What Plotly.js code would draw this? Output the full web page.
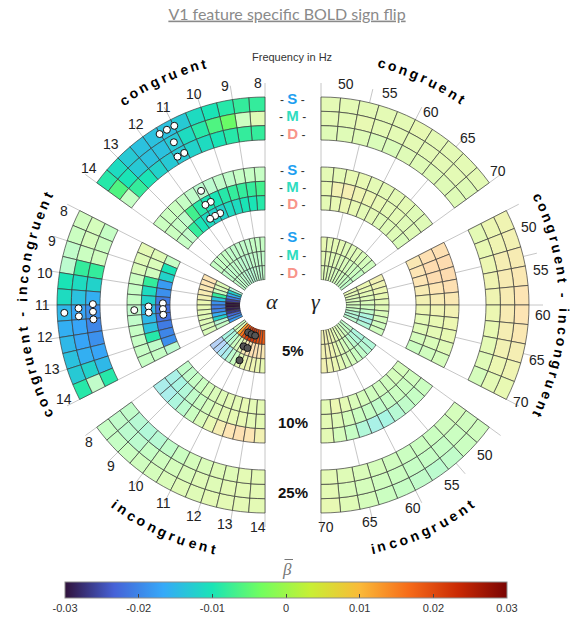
<!DOCTYPE html>
<html>
<head>
<meta charset="utf-8">
<script src="https://cdn.plot.ly/plotly-3.0.1.min.js"></script>
<style>
  html, body { margin: 0; padding: 0; background: #fff; }
  #chart { width: 574px; height: 619px; }
</style>
</head>
<body>
<div id="chart"></div>
<script>
// ---------------- data ----------------
// frequency bin edges (Hz)
const alphaEdges = [8, 8.5, 9, 9.5, 10, 10.5, 11, 11.5, 12, 12.5, 13, 13.5, 14];
const gammaEdges = [50, 52, 54, 56, 58, 60, 62, 64, 66, 68, 70];
const alphaTicks = [8, 9, 10, 11, 12, 13, 14];
const gammaTicks = [50, 55, 60, 65, 70];
const groupNames = ['congruent', 'congruent - incongruent', 'incongruent'];
const levelNames = ['5%', '10%', '25%'];
const depthNames = ['S', 'M', 'D'];

// mean beta per cell, in units of 1e-3; rows S / M / D, bins in frequency order
const alphaCong5  = [[-4,-4,-4,-5,-5,-5,-5,-5,-4,-4,-4,-4],
                     [-5,-5,-5,-5,-6,-6,-6,-5,-5,-5,-5,-5],
                     [-5,-6,-6,-6,-7,-7,-7,-6,-6,-5,-5,-5]];
const alphaCong10 = [[-4,-4,-4,-5,-5,-6,-6,-5,-4,-3,-3,-3],
                     [-7,-8,-8,-8,-9,-10,-10,-9,-7,-5,-4,-3],
                     [-9,-10,-10,-11,-11,-12,-12,-11,-10,-8,-5,-4]];
const alphaCong25 = [[-8,-8,-9,-10,-11,-13,-14,-14,-14,-13,-11,-9],
                     [1,-3,-4,-6,-9,-11,-13,-14,-14,-13,-10,-6],
                     [-8,-8,-9,-10,-11,-12,-13,-13,-12,-10,-8,-4]];
const alphaCI5    = [[10,10,9,8,6,4,3,2,1,1,0,0],
                     [1,0,-3,-8,-14,-19,-21,-20,-16,-12,-7,-4],
                     [-8,-12,-16,-21,-26,-30,-30,-29,-27,-23,-20,-18]];
const alphaCI10   = [[2,1,0,-3,-4,-4,-5,-5,-4,-4,-4,-4],
                     [1,0,-2,-8,-11,-12,-15,-15,-14,-9,-5,-4],
                     [-4,-10,-12,-18,-19,-21,-22,-22,-21,-20,-19,-6]];
const alphaCI25   = [[-2,-3,-5,-6,-10,-11,-15,-16,-15,-14,-13,-9],
                     [-1,-1,-3,-8,-11,-14,-17,-17,-17,-16,-12,-5],
                     [-4,-3,-2,-8,-12,-16,-19,-20,-19,-17,-15,-9]];
const alphaInc5   = [[-20,-19,-14,-12,-6,-3,2,4,5,5,4,3],
                     [-10,-9,-6,-3,0,3,8,10,11,11,10,9],
                     [-3,0,12,16,19,21,22,22,21,20,19,18]];
const alphaInc10  = [[-12,-12,-9,-6,-3,0,3,7,10,11,10,6],
                     [-11,-10,-8,-5,-3,-1,1,2,3,3,2,2],
                     [-5,-5,-4,-3,-1,0,1,2,2,3,2,2]];
const alphaInc25  = [[-4,-4,-3,-2,-1,0,1,1,2,2,2,2],
                     [-5,-6,-6,-4,-2,-1,0,1,1,2,2,2],
                     [-5,-7,-8,-7,-5,-3,-1,0,1,1,2,2]];

const gammaCong5  = [[3,2,2,2,1,1,1,0,-1,-2],
                     [2,2,1,1,0,0,-1,-2,-3,-4],
                     [1,1,0,0,-1,-1,-2,-3,-4,-5]];
const gammaCong10 = [[2,2,3,3,2,2,2,2,1,1],
                     [3,6,7,5,4,3,2,2,1,1],
                     [2,3,4,3,2,2,1,1,1,0]];
const gammaCong25 = [[2,2,2,2,2,3,2,2,2,2],
                     [2,2,3,2,2,2,2,2,2,1],
                     [1,1,1,0,0,1,1,1,1,1]];
const gammaCI5    = [[6,5,4,3,2,1,0,-1,-2,-2],
                     [4,3,2,1,0,-2,-5,-9,-11,-8],
                     [3,2,1,0,-1,-2,-4,-7,-8,-6]];
const gammaCI10   = [[11,12,12,11,9,6,4,3,1,-1],
                     [11,12,12,10,8,5,3,2,0,-2],
                     [9,10,10,8,6,4,2,1,-1,-3]];
const gammaCI25   = [[5,6,8,9,10,10,9,7,5,3],
                     [4,5,7,8,8,8,7,6,4,2],
                     [2,3,4,5,5,4,3,2,1,-1]];
const gammaInc5   = [[-8,-7,-5,-3,-1,0,2,4,5,6],
                     [-9,-8,-6,-3,-1,1,3,5,6,6],
                     [-5,-4,-2,0,1,2,4,5,6,6]];
const gammaInc10  = [[-3,-4,-5,-7,-10,-11,-8,-4,-1,2],
                     [-2,-3,-3,-4,-5,-4,-3,-1,1,2],
                     [-1,-1,-2,-2,-2,-1,0,2,4,2]];
const gammaInc25  = [[-2,-3,-5,-6,-5,-4,-3,-1,1,3],
                     [-2,-3,-4,-4,-4,-3,-2,-1,0,2],
                     [-1,-2,-3,-3,-3,-2,-1,0,1,2]];

// significant cells (1 = significant), same layout as the values
const alphaCong10Sig = ['000000000000', '111111111000', '111111111100'];
const alphaCong25Sig = ['111111111111', '001111111111', '111111111110'];
const alphaCI5Sig    = ['000000000000', '000111111100', '011111111111'];
const alphaCI10Sig   = ['000000000000', '000111111100', '011111111110'];
const alphaCI25Sig   = ['000011111111', '000111111110', '000111111111'];
const alphaInc5Sig   = ['000000000000', '000000000000', '001111111111'];

// marked cells: [group, level, depth row, bin, number of markers]
const alphaMarksOpen = [[0,2,0,6,3],[0,2,1,6,1],[0,2,2,6,2],
                        [0,1,0,6,1],[0,1,1,6,2],[0,1,2,6,3],
                        [1,2,0,6,1],[1,2,1,6,2],[1,2,2,6,3],
                        [1,1,0,6,1],[1,1,1,6,2],[1,1,2,6,3]];
const alphaMarksFilled = [[2,0,0,6,1],[2,0,1,6,2],[2,0,2,6,3]];

const CMIN = -0.03, CMAX = 0.03;
const cbTicks = [-0.03, -0.02, -0.01, 0, 0.01, 0.02, 0.03];
const cbTickText = ['-0.03', '-0.02', '-0.01', '0', '0.01', '0.02', '0.03'];

// ---------------- geometry & style ----------------
const W = 574, H = 619;
const CX_L = 265, CX_R = 321, CY = 305;
const R_MAX = 222, R_HOLE = 25, R_LABEL = 222.5;
const SPAN = 54, STEP = 63;             // degrees per group, group start spacing
const RING_IN = [25, 95, 165], RING_T = 43;
const SUB_T = RING_T / 3;
const EXT = Math.sin(0.5 * Math.PI / 180);
const PALE = 0.38;

const TURBO = ['#30123b','#4662d7','#36a9f9','#1ae4b6','#72fe5e',
               '#c8ef34','#faba39','#f66b19','#ca2a04','#7a0403'];
const turboScale = TURBO.map((c, i) => [i / (TURBO.length - 1), c]);

function hexRgb(h) { return [1, 3, 5].map(i => parseInt(h.substr(i, 2), 16)); }
const TURBO_RGB = TURBO.map(hexRgb);

function turbo(t) {
  t = Math.max(0, Math.min(1, t)) * (TURBO_RGB.length - 1);
  const i = Math.min(Math.floor(t), TURBO_RGB.length - 2), f = t - i;
  return TURBO_RGB[i].map((c, k) => c + (TURBO_RGB[i + 1][k] - c) * f);
}

function cellColor(v, sig) {
  const c = turbo((v - CMIN) / (CMAX - CMIN));
  const a = sig ? 1 : PALE;
  const m = c.map(x => Math.round(255 - a * (255 - x)));
  return 'rgb(' + m.join(',') + ')';
}

function freqToTheta(g, f, edges) {
  const f0 = edges[0], f1 = edges[edges.length - 1];
  return g * STEP + (f - f0) / (f1 - f0) * SPAN;
}

function buildCells(groups, sigs, edges, subplot) {
  const theta = [], r = [], base = [], width = [], color = [];
  groups.forEach((levels, g) => {
    levels.forEach((rows, k) => {
      const sk = sigs && sigs[g] && sigs[g][k];
      rows.forEach((vals, row) => {
        vals.forEach((v, b) => {
          const ta = freqToTheta(g, edges[b], edges);
          const tb = freqToTheta(g, edges[b + 1], edges);
          theta.push((ta + tb) / 2);
          width.push(tb - ta);
          base.push(RING_IN[k] + RING_T - (row + 1) * SUB_T);
          r.push(SUB_T);
          const sig = sk ? sk[row][b] === '1' : false;
          color.push(cellColor(v * 1e-3, sig));
        });
      });
    });
  });
  return {
    type: 'barpolar', subplot: subplot, theta: theta, r: r, base: base, width: width,
    marker: { color: color, line: { color: '#3a3a3a', width: 0.7 } },
    hoverinfo: 'skip', showlegend: false
  };
}

function buildMarks(list, edges, subplot, fill) {
  const theta = [], r = [];
  list.forEach(([g, k, row, b, n]) => {
    const tc = (freqToTheta(g, edges[b], edges) + freqToTheta(g, edges[b + 1], edges)) / 2;
    const rc = RING_IN[k] + RING_T - (row + 0.5) * SUB_T;
    const gap = (3 + 0.027 * rc) / rc * 180 / Math.PI;
    for (let i = 0; i < n; i++) {
      theta.push(tc + (i - (n - 1) / 2) * gap);
      r.push(rc);
    }
  });
  return {
    type: 'scatterpolar', subplot: subplot, mode: 'markers', theta: theta, r: r,
    marker: { size: 7, color: fill, line: { color: '#111', width: 1 } },
    hoverinfo: 'skip', showlegend: false, cliponaxis: false
  };
}

function tickAngles(ticks, edges) {
  const vals = [];
  for (let g = 0; g < 3; g++) ticks.forEach(f => vals.push(freqToTheta(g, f, edges)));
  return vals;
}

const alphaGroups = [[alphaCong5, alphaCong10, alphaCong25],
                     [alphaCI5, alphaCI10, alphaCI25],
                     [alphaInc5, alphaInc10, alphaInc25]];
const alphaSigs = [[null, alphaCong10Sig, alphaCong25Sig],
                   [alphaCI5Sig, alphaCI10Sig, alphaCI25Sig],
                   [alphaInc5Sig, null, null]];
const gammaGroups = [[gammaCong5, gammaCong10, gammaCong25],
                     [gammaCI5, gammaCI10, gammaCI25],
                     [gammaInc5, gammaInc10, gammaInc25]];

const traces = [
  buildCells(alphaGroups, alphaSigs, alphaEdges, 'polar'),
  buildCells(gammaGroups, null, gammaEdges, 'polar2'),
  buildMarks(alphaMarksOpen, alphaEdges, 'polar', '#ffffff'),
  buildMarks(alphaMarksFilled, alphaEdges, 'polar', '#555555'),
  {
    type: 'scatterpolar', subplot: 'polar', mode: 'markers', r: [R_HOLE], theta: [0],
    marker: {
      size: 0.1, color: [0], cmin: CMIN, cmax: CMAX, colorscale: turboScale, showscale: true,
      colorbar: {
        orientation: 'h', x: 286 / W, xanchor: 'center', y: 1 - 582 / H, yanchor: 'top',
        len: 442, lenmode: 'pixels', thickness: 16, thicknessmode: 'pixels',
        xpad: 0, ypad: 0, outlinewidth: 1, outlinecolor: '#8c8c8c',
        ticks: 'inside', ticklen: 4, tickcolor: '#444', tickwidth: 1,
        tickmode: 'array', tickvals: cbTicks, ticktext: cbTickText,
        tickfont: { family: 'Liberation Sans, Arial, sans-serif', size: 11, color: '#333' }
      }
    },
    hoverinfo: 'skip', showlegend: false
  }
];

function polarLayout(cx, left, tickvals) {
  const x0 = left ? cx - R_MAX : cx - R_MAX * EXT;
  const x1 = left ? cx + R_MAX * EXT : cx + R_MAX;
  return {
    domain: { x: [x0 / W, x1 / W], y: [1 - (CY + R_MAX) / H, 1 - (CY - R_MAX) / H] },
    sector: left ? [89.5, 270.5] : [-90.5, 90.5],
    hole: R_HOLE / R_MAX,
    bgcolor: 'rgba(0,0,0,0)',
    radialaxis: { range: [R_HOLE, R_MAX], visible: false, showgrid: false },
    angularaxis: {
      rotation: 90, direction: left ? 'counterclockwise' : 'clockwise',
      tickmode: 'array', tickvals: tickvals, showticklabels: false,
      showline: false, showgrid: true, gridcolor: '#b8b8b8', gridwidth: 0.8, ticks: ''
    }
  };
}

// ---------------- text ----------------
const annotations = [];
function addText(px, py, text, font, extra) {
  annotations.push(Object.assign({
    xref: 'paper', yref: 'paper', x: px / W, y: 1 - py / H, text: text,
    showarrow: false, xanchor: 'center', yanchor: 'middle', font: font
  }, extra || {}));
}

// frequency labels sit beside the outer ends of the tick lines
const tickFont = { family: 'Liberation Sans, Arial, sans-serif', size: 14, color: '#222' };
function freqLabels(ticks, edges, cx, left, squeeze, shift) {
  for (let g = 0; g < 3; g++) {
    const mid = g * STEP + SPAN / 2;
    ticks.forEach(f => {
      const th = mid + shift + (freqToTheta(g, f, edges) - mid) * squeeze;
      const phi = (left ? 90 + th : 90 - th) * Math.PI / 180;
      addText(cx + R_LABEL * Math.cos(phi), CY - R_LABEL * Math.sin(phi), String(f), tickFont);
    });
  }
}
freqLabels(alphaTicks, alphaEdges, CX_L, true, 0.93, 0);
freqLabels(gammaTicks, gammaEdges, CX_R, false, 0.86, 2.6);

// Helvetica-bold advance widths (em)
const BOLD_W = { a: .556, c: .556, e: .556, g: .611, i: .278, n: .611, o: .611,
                 r: .389, t: .333, u: .611, ' ': .278, '-': .333 };
const TITLE_SIZE = 14, TITLE_LS = 3.2;
const titleFont = { family: 'Liberation Sans, Arial, sans-serif', size: TITLE_SIZE, color: '#000' };

function arcTitle(text, cx, thetaC, rad, left, outward) {
  const phiC = left ? 90 + thetaC : 90 - thetaC;
  const w = text.split('').map(ch => (BOLD_W[ch] || .6) * TITLE_SIZE);
  const total = w.reduce((s, x) => s + x, 0) + (w.length - 1) * TITLE_LS;
  let pos = 0;
  text.split('').forEach((ch, i) => {
    const mid = pos + w[i] / 2;
    pos += w[i] + TITLE_LS;
    if (ch === ' ') return;
    const d = (mid - total / 2) / rad * 180 / Math.PI;
    const phi = outward ? phiC - d : phiC + d;
    const pr = phi * Math.PI / 180;
    let ang = outward ? 90 - phi : -90 - phi;
    ang = ((ang + 540) % 360) - 180;
    addText(cx + rad * Math.cos(pr), CY - rad * Math.sin(pr), '<b>' + ch + '</b>', titleFont,
            { textangle: ang });
  });
}

arcTitle(groupNames[0], CX_L, 24.5, 249, true, true);
arcTitle(groupNames[1], CX_L, 90, 243, true, true);
arcTitle(groupNames[2], CX_L, 155.5, 249, true, false);
arcTitle(groupNames[0], CX_R, 24, 249, false, true);
arcTitle(groupNames[1], CX_R, 90, 243, false, true);
arcTitle(groupNames[2], CX_R, 155.5, 249, false, false);

// depth labels per level
const depthColors = ['#1d9ff0', '#2fdcc0', '#f8948a'];
const depthY = [[236.7, 254, 272.7], [169.3, 186.7, 203.3], [98.3, 116, 133.3]];
const sansFont = { family: 'Liberation Sans, Arial, sans-serif', size: 12, color: '#333' };
depthY.forEach(ys => ys.forEach((y, i) => {
  addText(292.7, y, '- <b><span style="font-size:15px;color:' + depthColors[i] + '">' +
          depthNames[i] + '</span></b> -', sansFont);
}));

// level labels
const levelY = [350, 422, 493];
levelNames.forEach((t, i) => addText(292.5, levelY[i], '<b>' + t + '</b>',
  { family: 'Liberation Sans, Arial, sans-serif', size: 15, color: '#111' }));

addText(292, 57, 'Frequency in Hz', { family: 'Liberation Sans, Arial, sans-serif', size: 11, color: '#333' });
addText(272, 301, '<i>α</i>', { family: 'Liberation Serif, serif', size: 22, color: '#222' });
addText(316, 301, '<i>γ</i>', { family: 'Liberation Serif, serif', size: 22, color: '#222' });
addText(287, 569, '<i>β</i>', { family: 'Liberation Serif, serif', size: 17, color: '#777' });

const layout = {
  width: W, height: H,
  margin: { l: 0, r: 0, t: 0, b: 0 },
  paper_bgcolor: '#fff',
  showlegend: false,
  title: {
    text: '<u>V1 feature specific BOLD sign flip</u>',
    x: 0.5, xanchor: 'center', y: 1 - 14 / H, yanchor: 'middle',
    font: { family: 'Lato, Open Sans, sans-serif', size: 16, color: '#8a8a8a' }
  },
  polar: polarLayout(CX_L, true, tickAngles(alphaTicks, alphaEdges)),
  polar2: polarLayout(CX_R, false, tickAngles(gammaTicks, gammaEdges)),
  // bar over the beta symbol of the colour scale label
  shapes: [{ type: 'line', xref: 'paper', yref: 'paper',
             x0: 284.5 / W, x1: 293 / W, y0: 1 - 559.5 / H, y1: 1 - 559.5 / H,
             line: { color: '#777', width: 1 } }],
  annotations: annotations
};

Plotly.newPlot('chart', traces, layout, { displayModeBar: false, staticPlot: true });
</script>
</body>
</html>
